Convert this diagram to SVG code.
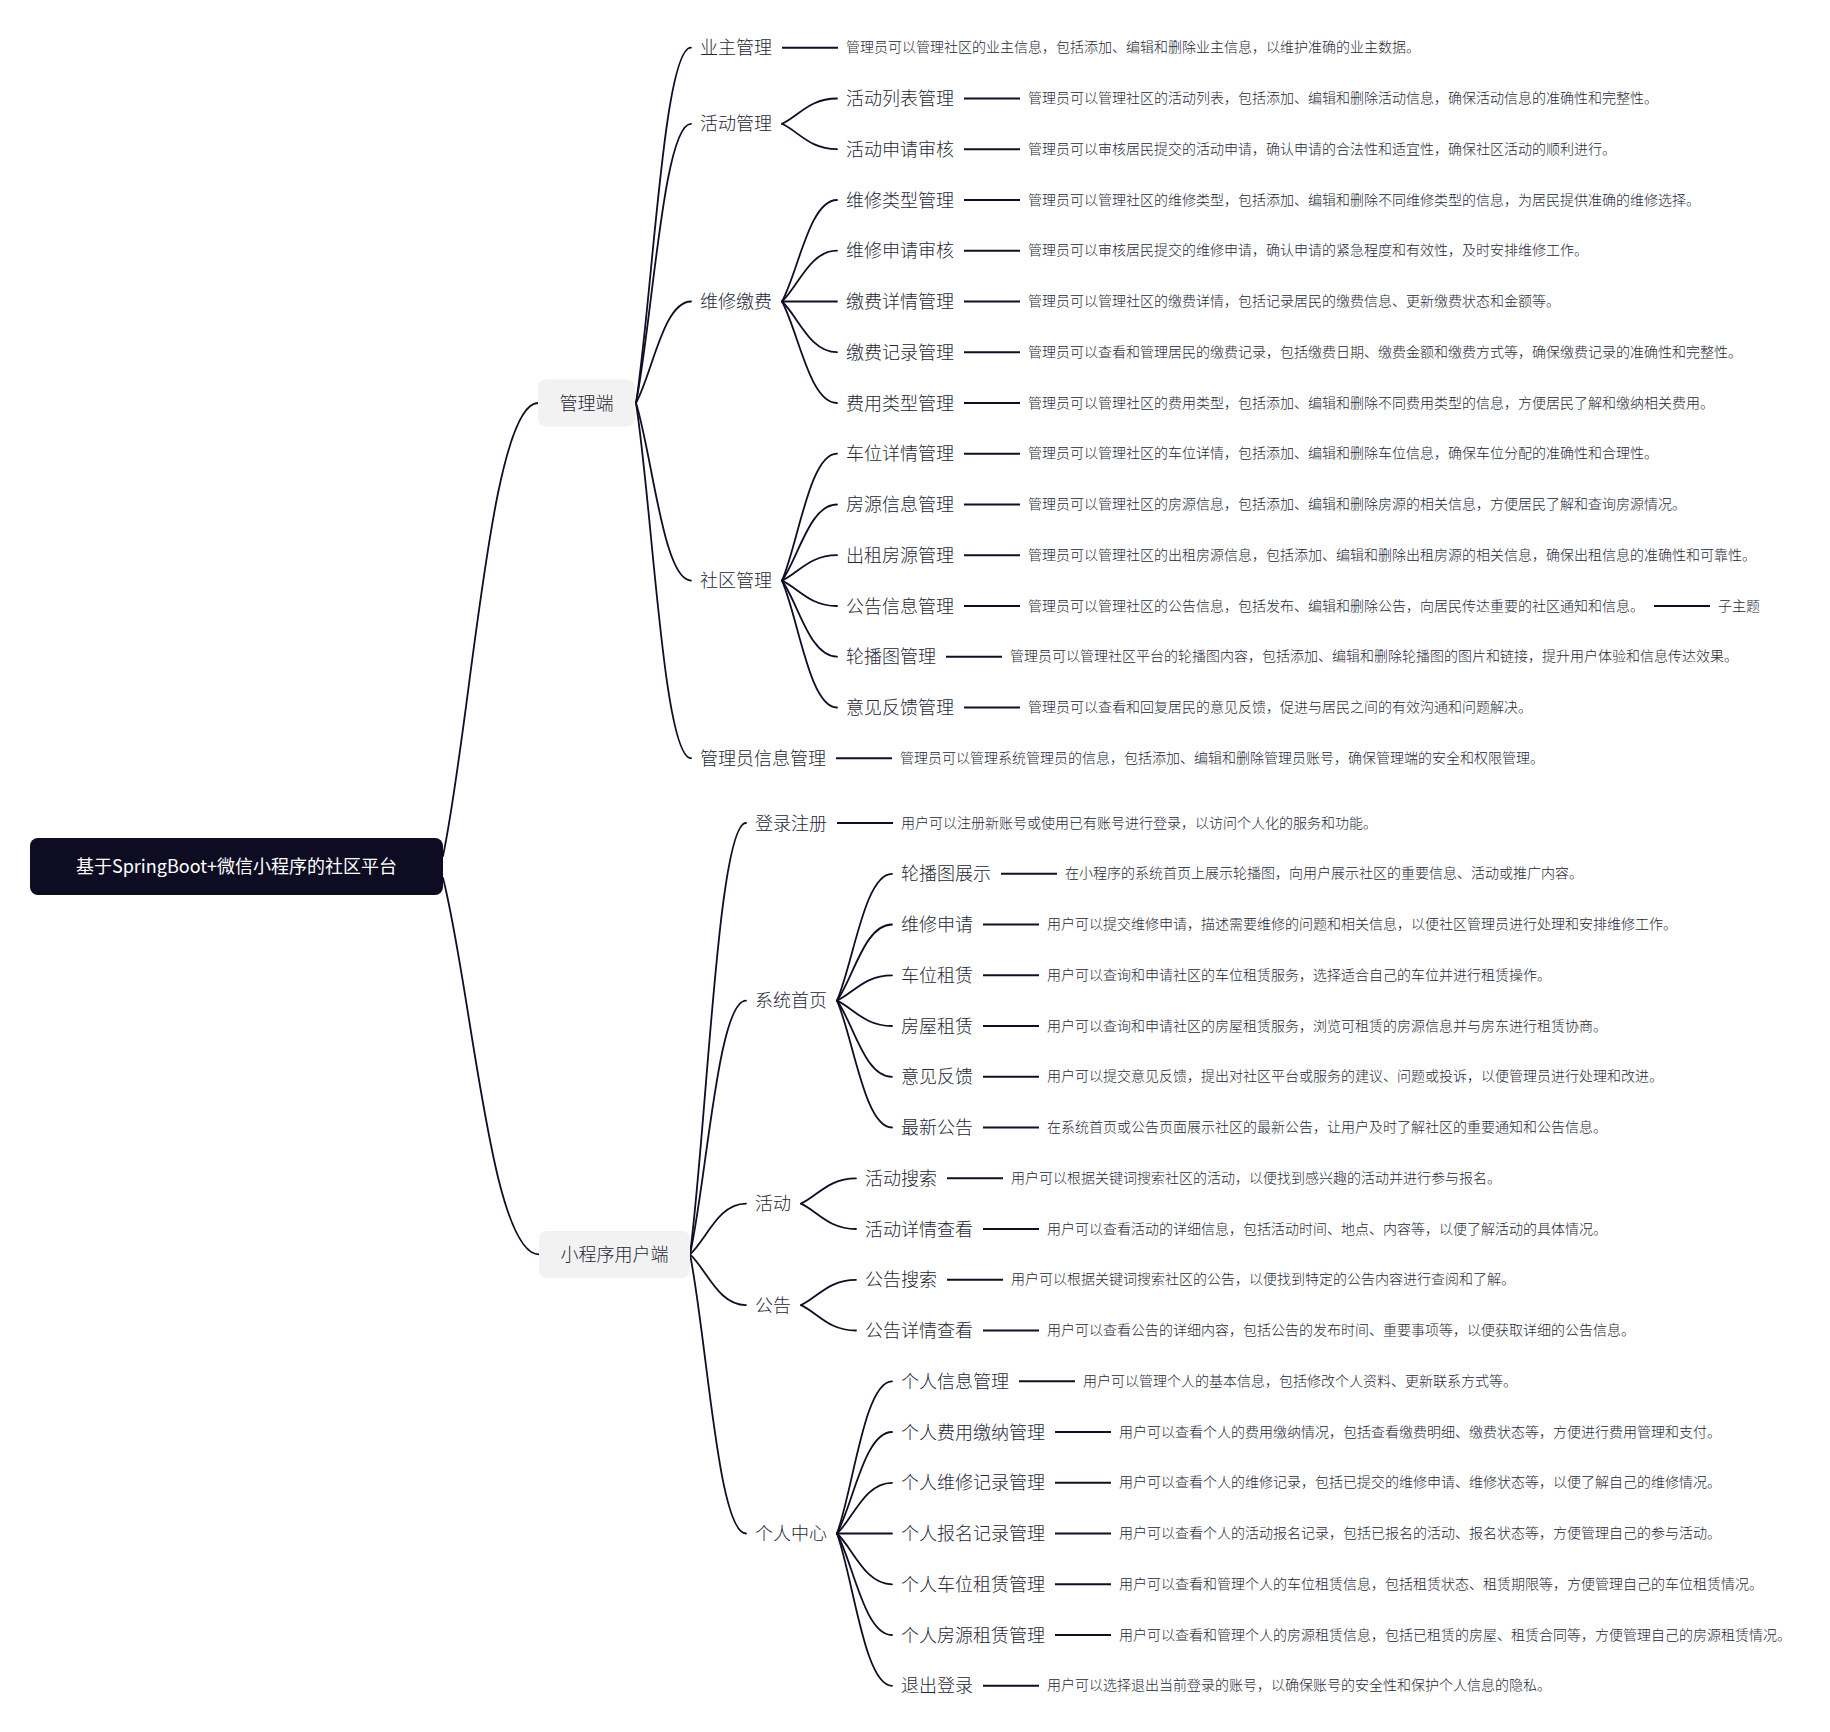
<svg xmlns="http://www.w3.org/2000/svg" width="1830" height="1732" viewBox="0 0 1830 1732">
<style>
text{font-family:"Noto Sans CJK SC","Microsoft YaHei","Liberation Sans",sans-serif;dominant-baseline:central;transform:translateY(-1.5px);}
.lb{font-size:18px;fill:#262636;font-weight:300;}
.ds{font-size:14px;fill:#262636;font-weight:300;}
.rt{font-size:18px;fill:#ffffff;}
.cv{fill:none;stroke:#100e26;stroke-width:1.8;stroke-linecap:round;}
.ln{fill:none;stroke:#100e26;stroke-width:2;}
.box{fill:#f2f2f2;}
.root{fill:#0e0c22;}
</style>
<rect width="1830" height="1732" fill="#ffffff"/>
<g id="connectors">
<path class="cv" d="M443 856 C471.5 720.1 490.5 403 538 403"/>
<path class="cv" d="M443 878 C471.8 990.9 491 1254.4 539 1254.4"/>
<path class="cv" d="M636 403 C652.5 296.4 663.5 47.7 691 47.7"/>
<path class="cv" d="M636 403 C652.5 319.2 663.5 123.8 691 123.8"/>
<path class="cv" d="M636 403 C652.5 372.6 663.5 301.5 691 301.5"/>
<path class="cv" d="M636 403 C652.5 456.3 663.5 580.6 691 580.6"/>
<path class="cv" d="M636 403 C652.5 509.6 663.5 758.2 691 758.2"/>
<path class="cv" d="M782 123.8 C798.5 116.2 809.5 98.5 837 98.5"/>
<path class="cv" d="M782 123.8 C798.5 131.4 809.5 149.2 837 149.2"/>
<path class="cv" d="M782 301.5 C798.5 271 809.5 200 837 200"/>
<path class="cv" d="M782 301.5 C798.5 286.3 809.5 250.7 837 250.7"/>
<path class="cv" d="M782 301.5 L837 301.5"/>
<path class="cv" d="M782 301.5 C798.5 316.7 809.5 352.2 837 352.2"/>
<path class="cv" d="M782 301.5 C798.5 331.9 809.5 403 837 403"/>
<path class="cv" d="M782 580.6 C798.5 542.5 809.5 453.7 837 453.7"/>
<path class="cv" d="M782 580.6 C798.5 557.8 809.5 504.5 837 504.5"/>
<path class="cv" d="M782 580.6 C798.5 573 809.5 555.2 837 555.2"/>
<path class="cv" d="M782 580.6 C798.5 588.2 809.5 606 837 606"/>
<path class="cv" d="M782 580.6 C798.5 603.4 809.5 656.7 837 656.7"/>
<path class="cv" d="M782 580.6 C798.5 618.7 809.5 707.5 837 707.5"/>
<path class="cv" d="M690 1254.4 C706.8 1125 718 823 746 823"/>
<path class="cv" d="M690 1254.4 C706.8 1178.3 718 1000.6 746 1000.6"/>
<path class="cv" d="M690 1254.4 C706.8 1239.2 718 1203.6 746 1203.6"/>
<path class="cv" d="M690 1254.4 C706.8 1269.6 718 1305.1 746 1305.1"/>
<path class="cv" d="M690 1254.4 C706.8 1338.1 718 1533.5 746 1533.5"/>
<path class="cv" d="M837 1000.6 C853.5 962.5 864.5 873.8 892 873.8"/>
<path class="cv" d="M837 1000.6 C853.5 977.8 864.5 924.5 892 924.5"/>
<path class="cv" d="M837 1000.6 C853.5 993 864.5 975.3 892 975.3"/>
<path class="cv" d="M837 1000.6 C853.5 1008.2 864.5 1026 892 1026"/>
<path class="cv" d="M837 1000.6 C853.5 1023.4 864.5 1076.8 892 1076.8"/>
<path class="cv" d="M837 1000.6 C853.5 1038.7 864.5 1127.5 892 1127.5"/>
<path class="cv" d="M801 1203.6 C817.5 1196 828.5 1178.3 856 1178.3"/>
<path class="cv" d="M801 1203.6 C817.5 1211.2 828.5 1229 856 1229"/>
<path class="cv" d="M801 1305.1 C817.5 1297.5 828.5 1279.8 856 1279.8"/>
<path class="cv" d="M801 1305.1 C817.5 1312.7 828.5 1330.5 856 1330.5"/>
<path class="cv" d="M837 1533.5 C853.5 1487.8 864.5 1381.3 892 1381.3"/>
<path class="cv" d="M837 1533.5 C853.5 1503 864.5 1432 892 1432"/>
<path class="cv" d="M837 1533.5 C853.5 1518.3 864.5 1482.8 892 1482.8"/>
<path class="cv" d="M837 1533.5 L892 1533.5"/>
<path class="cv" d="M837 1533.5 C853.5 1548.7 864.5 1584.3 892 1584.3"/>
<path class="cv" d="M837 1533.5 C853.5 1564 864.5 1635 892 1635"/>
<path class="cv" d="M837 1533.5 C853.5 1579.2 864.5 1685.8 892 1685.8"/>
<path class="ln" d="M782 47.7H838"/>
<path class="ln" d="M964 98.5H1020"/>
<path class="ln" d="M964 149.2H1020"/>
<path class="ln" d="M964 200H1020"/>
<path class="ln" d="M964 250.7H1020"/>
<path class="ln" d="M964 301.5H1020"/>
<path class="ln" d="M964 352.2H1020"/>
<path class="ln" d="M964 403H1020"/>
<path class="ln" d="M964 453.7H1020"/>
<path class="ln" d="M964 504.5H1020"/>
<path class="ln" d="M964 555.2H1020"/>
<path class="ln" d="M964 606H1020"/>
<path class="ln" d="M1654 606H1710"/>
<path class="ln" d="M946 656.7H1002"/>
<path class="ln" d="M964 707.5H1020"/>
<path class="ln" d="M836 758.2H892"/>
<path class="ln" d="M837 823H893"/>
<path class="ln" d="M1001 873.8H1057"/>
<path class="ln" d="M983 924.5H1039"/>
<path class="ln" d="M983 975.3H1039"/>
<path class="ln" d="M983 1026H1039"/>
<path class="ln" d="M983 1076.8H1039"/>
<path class="ln" d="M983 1127.5H1039"/>
<path class="ln" d="M947 1178.3H1003"/>
<path class="ln" d="M983 1229H1039"/>
<path class="ln" d="M947 1279.8H1003"/>
<path class="ln" d="M983 1330.5H1039"/>
<path class="ln" d="M1019 1381.3H1075"/>
<path class="ln" d="M1055 1432H1111"/>
<path class="ln" d="M1055 1482.8H1111"/>
<path class="ln" d="M1055 1533.5H1111"/>
<path class="ln" d="M1055 1584.3H1111"/>
<path class="ln" d="M1055 1635H1111"/>
<path class="ln" d="M983 1685.8H1039"/>
</g>
<g id="root"><rect class="root" x="30" y="838" width="413" height="57" rx="8"/><text class="rt" x="236.5" y="866.7" text-anchor="middle">基于SpringBoot+微信小程序的社区平台</text></g>
<g id="admin"><rect class="box" x="538" y="379.5" width="97" height="47" rx="8"/><text class="lb" x="586.5" y="403" text-anchor="middle">管理端</text></g>
<g id="user"><rect class="box" x="539" y="1231" width="151" height="47" rx="8"/><text class="lb" x="614.5" y="1254.4" text-anchor="middle">小程序用户端</text></g>
<g id="a-owner"><text class="lb" x="700" y="47.7">业主管理</text></g>
<g id="a-owner-d"><text class="ds" x="846" y="47.7">管理员可以管理社区的业主信息，包括添加、编辑和删除业主信息，以维护准确的业主数据。</text></g>
<g id="a-act"><text class="lb" x="700" y="123.8">活动管理</text></g>
<g id="a-act-1"><text class="lb" x="846" y="98.5">活动列表管理</text></g>
<g id="a-act-1-d"><text class="ds" x="1028" y="98.5">管理员可以管理社区的活动列表，包括添加、编辑和删除活动信息，确保活动信息的准确性和完整性。</text></g>
<g id="a-act-2"><text class="lb" x="846" y="149.2">活动申请审核</text></g>
<g id="a-act-2-d"><text class="ds" x="1028" y="149.2">管理员可以审核居民提交的活动申请，确认申请的合法性和适宜性，确保社区活动的顺利进行。</text></g>
<g id="a-fee"><text class="lb" x="700" y="301.5">维修缴费</text></g>
<g id="a-fee-1"><text class="lb" x="846" y="200">维修类型管理</text></g>
<g id="a-fee-1-d"><text class="ds" x="1028" y="200">管理员可以管理社区的维修类型，包括添加、编辑和删除不同维修类型的信息，为居民提供准确的维修选择。</text></g>
<g id="a-fee-2"><text class="lb" x="846" y="250.7">维修申请审核</text></g>
<g id="a-fee-2-d"><text class="ds" x="1028" y="250.7">管理员可以审核居民提交的维修申请，确认申请的紧急程度和有效性，及时安排维修工作。</text></g>
<g id="a-fee-3"><text class="lb" x="846" y="301.5">缴费详情管理</text></g>
<g id="a-fee-3-d"><text class="ds" x="1028" y="301.5">管理员可以管理社区的缴费详情，包括记录居民的缴费信息、更新缴费状态和金额等。</text></g>
<g id="a-fee-4"><text class="lb" x="846" y="352.2">缴费记录管理</text></g>
<g id="a-fee-4-d"><text class="ds" x="1028" y="352.2">管理员可以查看和管理居民的缴费记录，包括缴费日期、缴费金额和缴费方式等，确保缴费记录的准确性和完整性。</text></g>
<g id="a-fee-5"><text class="lb" x="846" y="403">费用类型管理</text></g>
<g id="a-fee-5-d"><text class="ds" x="1028" y="403">管理员可以管理社区的费用类型，包括添加、编辑和删除不同费用类型的信息，方便居民了解和缴纳相关费用。</text></g>
<g id="a-com"><text class="lb" x="700" y="580.6">社区管理</text></g>
<g id="a-com-1"><text class="lb" x="846" y="453.7">车位详情管理</text></g>
<g id="a-com-1-d"><text class="ds" x="1028" y="453.7">管理员可以管理社区的车位详情，包括添加、编辑和删除车位信息，确保车位分配的准确性和合理性。</text></g>
<g id="a-com-2"><text class="lb" x="846" y="504.5">房源信息管理</text></g>
<g id="a-com-2-d"><text class="ds" x="1028" y="504.5">管理员可以管理社区的房源信息，包括添加、编辑和删除房源的相关信息，方便居民了解和查询房源情况。</text></g>
<g id="a-com-3"><text class="lb" x="846" y="555.2">出租房源管理</text></g>
<g id="a-com-3-d"><text class="ds" x="1028" y="555.2">管理员可以管理社区的出租房源信息，包括添加、编辑和删除出租房源的相关信息，确保出租信息的准确性和可靠性。</text></g>
<g id="a-com-4"><text class="lb" x="846" y="606">公告信息管理</text></g>
<g id="a-com-4-d"><text class="ds" x="1028" y="606">管理员可以管理社区的公告信息，包括发布、编辑和删除公告，向居民传达重要的社区通知和信息。</text></g>
<g id="a-com-4-sub"><text class="ds" x="1718" y="606">子主题</text></g>
<g id="a-com-5"><text class="lb" x="846" y="656.7">轮播图管理</text></g>
<g id="a-com-5-d"><text class="ds" x="1010" y="656.7">管理员可以管理社区平台的轮播图内容，包括添加、编辑和删除轮播图的图片和链接，提升用户体验和信息传达效果。</text></g>
<g id="a-com-6"><text class="lb" x="846" y="707.5">意见反馈管理</text></g>
<g id="a-com-6-d"><text class="ds" x="1028" y="707.5">管理员可以查看和回复居民的意见反馈，促进与居民之间的有效沟通和问题解决。</text></g>
<g id="a-adm"><text class="lb" x="700" y="758.2">管理员信息管理</text></g>
<g id="a-adm-d"><text class="ds" x="900" y="758.2">管理员可以管理系统管理员的信息，包括添加、编辑和删除管理员账号，确保管理端的安全和权限管理。</text></g>
<g id="u-login"><text class="lb" x="755" y="823">登录注册</text></g>
<g id="u-login-d"><text class="ds" x="901" y="823">用户可以注册新账号或使用已有账号进行登录，以访问个人化的服务和功能。</text></g>
<g id="u-home"><text class="lb" x="755" y="1000.6">系统首页</text></g>
<g id="u-home-1"><text class="lb" x="901" y="873.8">轮播图展示</text></g>
<g id="u-home-1-d"><text class="ds" x="1065" y="873.8">在小程序的系统首页上展示轮播图，向用户展示社区的重要信息、活动或推广内容。</text></g>
<g id="u-home-2"><text class="lb" x="901" y="924.5">维修申请</text></g>
<g id="u-home-2-d"><text class="ds" x="1047" y="924.5">用户可以提交维修申请，描述需要维修的问题和相关信息，以便社区管理员进行处理和安排维修工作。</text></g>
<g id="u-home-3"><text class="lb" x="901" y="975.3">车位租赁</text></g>
<g id="u-home-3-d"><text class="ds" x="1047" y="975.3">用户可以查询和申请社区的车位租赁服务，选择适合自己的车位并进行租赁操作。</text></g>
<g id="u-home-4"><text class="lb" x="901" y="1026">房屋租赁</text></g>
<g id="u-home-4-d"><text class="ds" x="1047" y="1026">用户可以查询和申请社区的房屋租赁服务，浏览可租赁的房源信息并与房东进行租赁协商。</text></g>
<g id="u-home-5"><text class="lb" x="901" y="1076.8">意见反馈</text></g>
<g id="u-home-5-d"><text class="ds" x="1047" y="1076.8">用户可以提交意见反馈，提出对社区平台或服务的建议、问题或投诉，以便管理员进行处理和改进。</text></g>
<g id="u-home-6"><text class="lb" x="901" y="1127.5">最新公告</text></g>
<g id="u-home-6-d"><text class="ds" x="1047" y="1127.5">在系统首页或公告页面展示社区的最新公告，让用户及时了解社区的重要通知和公告信息。</text></g>
<g id="u-act"><text class="lb" x="755" y="1203.6">活动</text></g>
<g id="u-act-1"><text class="lb" x="865" y="1178.3">活动搜索</text></g>
<g id="u-act-1-d"><text class="ds" x="1011" y="1178.3">用户可以根据关键词搜索社区的活动，以便找到感兴趣的活动并进行参与报名。</text></g>
<g id="u-act-2"><text class="lb" x="865" y="1229">活动详情查看</text></g>
<g id="u-act-2-d"><text class="ds" x="1047" y="1229">用户可以查看活动的详细信息，包括活动时间、地点、内容等，以便了解活动的具体情况。</text></g>
<g id="u-ann"><text class="lb" x="755" y="1305.1">公告</text></g>
<g id="u-ann-1"><text class="lb" x="865" y="1279.8">公告搜索</text></g>
<g id="u-ann-1-d"><text class="ds" x="1011" y="1279.8">用户可以根据关键词搜索社区的公告，以便找到特定的公告内容进行查阅和了解。</text></g>
<g id="u-ann-2"><text class="lb" x="865" y="1330.5">公告详情查看</text></g>
<g id="u-ann-2-d"><text class="ds" x="1047" y="1330.5">用户可以查看公告的详细内容，包括公告的发布时间、重要事项等，以便获取详细的公告信息。</text></g>
<g id="u-me"><text class="lb" x="755" y="1533.5">个人中心</text></g>
<g id="u-me-1"><text class="lb" x="901" y="1381.3">个人信息管理</text></g>
<g id="u-me-1-d"><text class="ds" x="1083" y="1381.3">用户可以管理个人的基本信息，包括修改个人资料、更新联系方式等。</text></g>
<g id="u-me-2"><text class="lb" x="901" y="1432">个人费用缴纳管理</text></g>
<g id="u-me-2-d"><text class="ds" x="1119" y="1432">用户可以查看个人的费用缴纳情况，包括查看缴费明细、缴费状态等，方便进行费用管理和支付。</text></g>
<g id="u-me-3"><text class="lb" x="901" y="1482.8">个人维修记录管理</text></g>
<g id="u-me-3-d"><text class="ds" x="1119" y="1482.8">用户可以查看个人的维修记录，包括已提交的维修申请、维修状态等，以便了解自己的维修情况。</text></g>
<g id="u-me-4"><text class="lb" x="901" y="1533.5">个人报名记录管理</text></g>
<g id="u-me-4-d"><text class="ds" x="1119" y="1533.5">用户可以查看个人的活动报名记录，包括已报名的活动、报名状态等，方便管理自己的参与活动。</text></g>
<g id="u-me-5"><text class="lb" x="901" y="1584.3">个人车位租赁管理</text></g>
<g id="u-me-5-d"><text class="ds" x="1119" y="1584.3">用户可以查看和管理个人的车位租赁信息，包括租赁状态、租赁期限等，方便管理自己的车位租赁情况。</text></g>
<g id="u-me-6"><text class="lb" x="901" y="1635">个人房源租赁管理</text></g>
<g id="u-me-6-d"><text class="ds" x="1119" y="1635">用户可以查看和管理个人的房源租赁信息，包括已租赁的房屋、租赁合同等，方便管理自己的房源租赁情况。</text></g>
<g id="u-me-7"><text class="lb" x="901" y="1685.8">退出登录</text></g>
<g id="u-me-7-d"><text class="ds" x="1047" y="1685.8">用户可以选择退出当前登录的账号，以确保账号的安全性和保护个人信息的隐私。</text></g>
</svg>
